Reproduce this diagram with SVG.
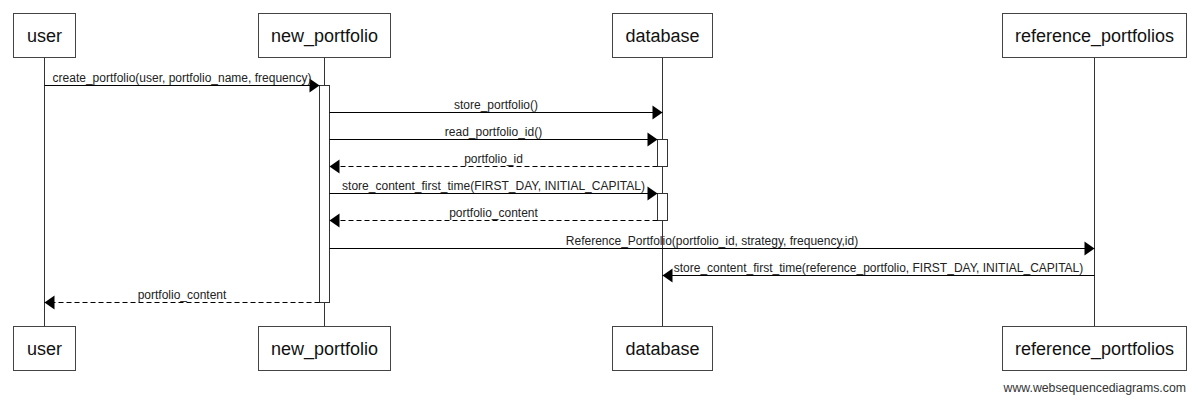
<svg xmlns="http://www.w3.org/2000/svg" width="1200" height="400" viewBox="0 0 1200 400">
  <style>
    .box { fill: #ffffff; stroke: #444444; stroke-width: 1; }
    .name { font-family: "Liberation Sans", Arial, sans-serif; font-size: 18px; fill: #111111; text-anchor: middle; }
    .life { stroke: #333333; stroke-width: 1; fill: none; }
    .act { fill: #ffffff; stroke: #333333; stroke-width: 1; }
    .msg { stroke: #000000; stroke-width: 1; fill: none; marker-end: url(#head); }
    .ret { stroke-dasharray: 5 3; }
    .lbl { font-family: "Liberation Sans", Arial, sans-serif; font-size: 12px; fill: #222222; text-anchor: middle; }
    .mark { font-family: "Liberation Sans", Arial, sans-serif; font-size: 12.3px; fill: #333333; text-anchor: end; }
  </style>
  <defs>
    <marker id="head" markerUnits="userSpaceOnUse" markerWidth="10" markerHeight="14" refX="10" refY="7" orient="auto" overflow="visible">
      <path d="M0,0 L10,7 L0,14 Z" fill="#000000"/>
    </marker>
  </defs>
  <rect width="1200" height="400" fill="#ffffff"/>

  <!-- lifelines -->
  <g id="lifelines">
    <line class="life" x1="44.5" y1="57.5" x2="44.5" y2="326.5"/>
    <line class="life" x1="324.5" y1="57.5" x2="324.5" y2="326.5"/>
    <line class="life" x1="662.5" y1="57.5" x2="662.5" y2="326.5"/>
    <line class="life" x1="1094.5" y1="57.5" x2="1094.5" y2="326.5"/>
  </g>

  <!-- participants -->
  <g id="user">
    <rect class="box" x="13.5" y="13.5" width="62" height="44"/>
    <text class="name" x="44.5" y="42">user</text>
    <rect class="box" x="13.5" y="326.5" width="62" height="44"/>
    <text class="name" x="44.5" y="355">user</text>
  </g>
  <g id="new_portfolio">
    <rect class="box" x="258.5" y="13.5" width="132" height="44"/>
    <text class="name" x="324.5" y="42">new_portfolio</text>
    <rect class="box" x="258.5" y="326.5" width="132" height="44"/>
    <text class="name" x="324.5" y="355">new_portfolio</text>
    <rect class="act" x="319.5" y="85.5" width="10" height="217"/>
  </g>
  <g id="database">
    <rect class="box" x="612.5" y="13.5" width="100" height="44"/>
    <text class="name" x="662.5" y="42">database</text>
    <rect class="box" x="612.5" y="326.5" width="100" height="44"/>
    <text class="name" x="662.5" y="355">database</text>
    <rect class="act" x="657.5" y="139.5" width="10" height="27"/>
    <rect class="act" x="657.5" y="193.5" width="10" height="27"/>
  </g>
  <g id="reference_portfolios">
    <rect class="box" x="1002.5" y="13.5" width="184" height="44"/>
    <text class="name" x="1094.5" y="42">reference_portfolios</text>
    <rect class="box" x="1002.5" y="326.5" width="184" height="44"/>
    <text class="name" x="1094.5" y="355">reference_portfolios</text>
  </g>

  <!-- messages -->
  <g id="connectors">
    <line class="msg" x1="44.5" y1="85.5" x2="319.5" y2="85.5"/>
    <text class="lbl" x="182" y="81.5">create_portfolio(user, portfolio_name, frequency)</text>

    <line class="msg" x1="329.5" y1="112.5" x2="662.5" y2="112.5"/>
    <text class="lbl" x="496" y="108.5">store_portfolio()</text>

    <line class="msg" x1="329.5" y1="139.5" x2="657.5" y2="139.5"/>
    <text class="lbl" x="493.5" y="135.5">read_portfolio_id()</text>

    <line class="msg ret" x1="657.5" y1="166.5" x2="329.5" y2="166.5"/>
    <text class="lbl" x="493.5" y="162.5">portfolio_id</text>

    <line class="msg" x1="329.5" y1="193.5" x2="657.5" y2="193.5"/>
    <text class="lbl" x="493.5" y="189.5">store_content_first_time(FIRST_DAY, INITIAL_CAPITAL)</text>

    <line class="msg ret" x1="657.5" y1="220.5" x2="329.5" y2="220.5"/>
    <text class="lbl" x="493.5" y="216.5">portfolio_content</text>

    <line class="msg" x1="329.5" y1="248.5" x2="1094.5" y2="248.5"/>
    <text class="lbl" x="712" y="244.5">Reference_Portfolio(portfolio_id, strategy, frequency,id)</text>

    <line class="msg" x1="1094.5" y1="275.5" x2="662.5" y2="275.5"/>
    <text class="lbl" x="878.5" y="271.5">store_content_first_time(reference_portfolio, FIRST_DAY, INITIAL_CAPITAL)</text>

    <line class="msg ret" x1="319.5" y1="302.5" x2="44.5" y2="302.5"/>
    <text class="lbl" x="182" y="298.5">portfolio_content</text>
  </g>

  <text class="mark" x="1186" y="392">www.websequencediagrams.com</text>
</svg>
